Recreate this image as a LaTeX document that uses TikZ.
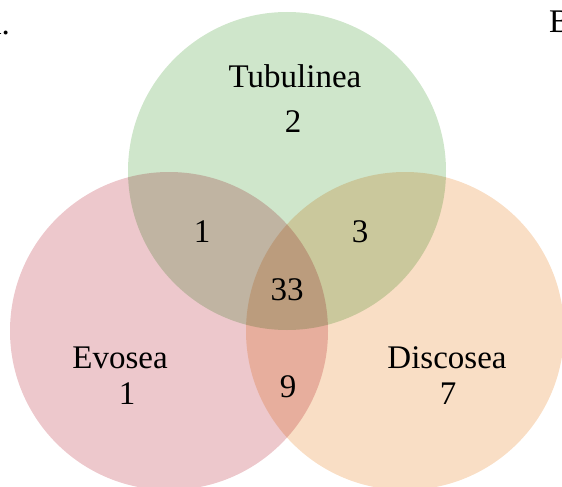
\documentclass[tikz,border=0pt]{standalone}
\usepackage{fontspec}
\setmainfont{Liberation Serif}
\usetikzlibrary{positioning}
\definecolor{tubugreen}{RGB}{207,230,203}
\definecolor{evopink}{RGB}{237,200,204}
\definecolor{discopeach}{RGB}{249,222,197}
\tikzset{
set/.style={circle, minimum size=318pt, inner sep=0pt, draw=none}, % one circle per group
count/.style={font=\fontsize{33}{36}\selectfont, inner sep=0pt, anchor=base}, % names and numbers
}

\begin{document}
\begin{tikzpicture}[x=1pt, y=-1pt]
            \useasboundingbox (0,0) rectangle (562,487);
            \begin{scope}[blend group=multiply]
                \node[set, fill=tubugreen] (tubu) at (287,171) {};
                \node[set, fill=evopink] (evo) at (169,331) {};
                \node[set, fill=discopeach] (disco) at (405,331) {};
            \end{scope}
            \node[count, anchor=base east] (panela) at (10,35) {A.};
            \node[count, anchor=base west] (panelb) at (549,33) {B};

            \node[count] (tubuname) at (295,88) {Tubulinea};
            \node[count] (tubuonly) at (293,132) {2};
            \node[count] (evoname) at (120,368) {Evosea};
            \node[count] (evoonly) at (127,404) {1};
            \node[count] (disconame) at (447,368) {Discosea};
            \node[count] (disconly) at (448,404) {7};
            \node[count] (tubuevo) at (202,242) {1};
            \node[count] (tubudisco) at (360,242) {3};
            \node[count] (allthree) at (287,300) {33};
            \node[count] (evodisco) at (288,397) {9};
\end{tikzpicture}
\end{document}
